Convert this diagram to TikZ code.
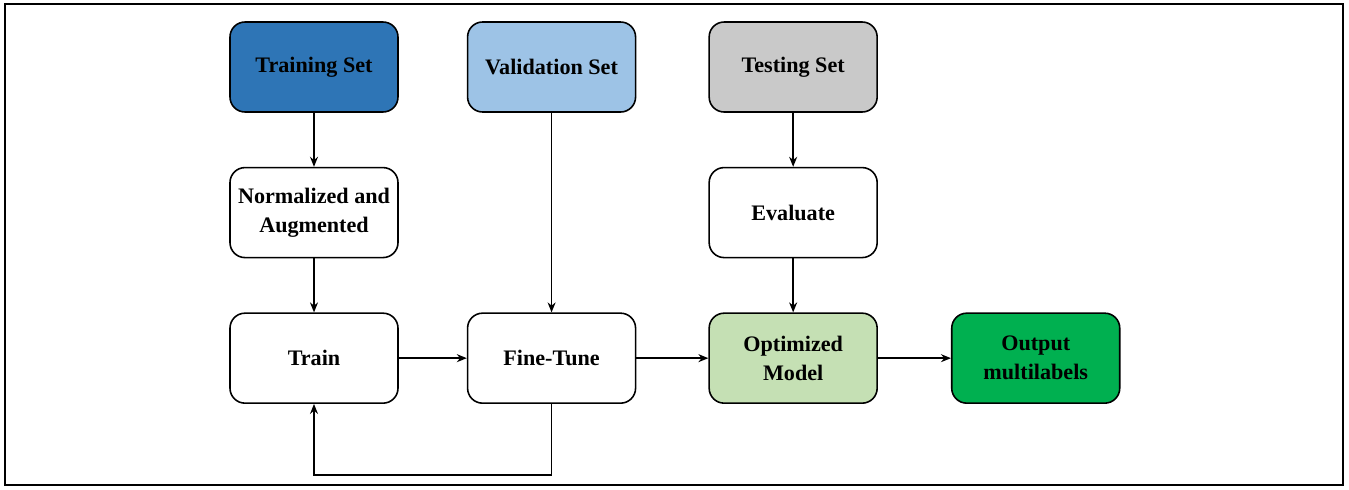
\documentclass[tikz,border=0pt]{standalone}
\usepackage{fontspec}
\setmainfont{Liberation Serif}
\usetikzlibrary{positioning, arrows.meta}
\definecolor{trainblue}{HTML}{2E75B6}
\definecolor{valblue}{HTML}{9DC3E6}
\definecolor{testgray}{HTML}{C9C9C9}
\definecolor{optgreen}{HTML}{C5E0B4}
\definecolor{outgreen}{HTML}{00B050}
\begin{document}
\begin{tikzpicture}[font=\fontsize{12.6}{16.5}\selectfont\bfseries, >={Stealth[length=2mm, width=1.6mm]},
  box/.style={draw, line width=0.9pt, rounded corners=0.3cm, align=center, minimum width=3.36cm, minimum height=1.8cm, inner sep=1pt},
  flow/.style={->, line width=0.8pt}]
  \useasboundingbox (0,0) rectangle (26.98,-9.78);
  \draw[line width=0.8pt] (0.1,-0.08) rectangle (26.86,-9.7);
  % data sets
  \node[box, fill=trainblue] (tr) at (6.28,-1.34) {Training Set};
  \node[box, fill=valblue, right=1.36cm of tr] (va) {Validation Set};
  \node[box, fill=testgray, right=1.44cm of va] (te) {Testing Set};
  % processing
  \node[box, below=1.08cm of tr] (na) {Normalized and\\Augmented};
  \node[box, below=1.08cm of te] (ev) {Evaluate};
  \node[box, below=1.08cm of na] (tn) {Train};
  \node[box, right=1.36cm of tn] (ft) {Fine-Tune};
  \node[box, fill=optgreen, below=1.08cm of ev] (om) {Optimized\\Model};
  \node[box, fill=outgreen, right=1.46cm of om] (ou) {Output\\multilabels};
  \draw[flow] (tr) -- (na); \draw[flow] (na) -- (tn);
  \draw[flow] (va) -- (ft); \draw[flow] (te) -- (ev); \draw[flow] (ev) -- (om);
  \draw[flow] (tn) -- (ft); \draw[flow] (ft) -- (om); \draw[flow] (om) -- (ou);
  \draw[flow] (ft.south) -- ++(0,-1.42) -| (tn.south);
\end{tikzpicture}
\end{document}
